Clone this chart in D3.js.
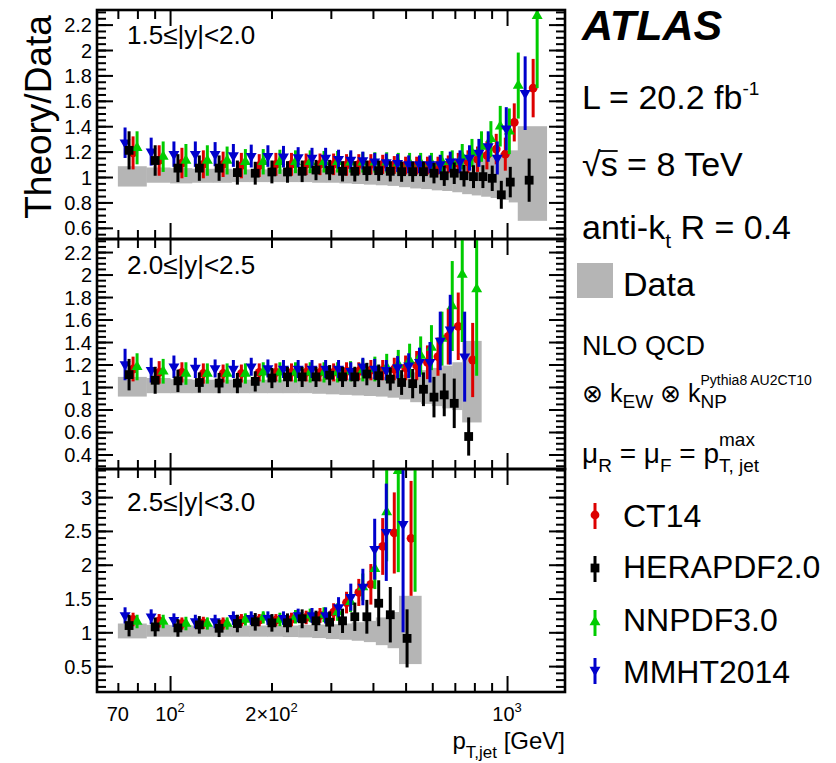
<!DOCTYPE html>
<html><head><meta charset="utf-8">
<script src="https://cdn.jsdelivr.net/npm/d3@7"></script>
<style>
body{margin:0;background:#fff}
svg{display:block}
text{font-family:"Liberation Sans",Arial,Helvetica,sans-serif;fill:#000;white-space:pre}
</style>
</head><body>
<svg id="c" width="836" height="763" xml:space="preserve"></svg>
<script>
// ---------------- DATA ----------------
const edges1 = [70,85,100,116,134,152,172,194,216,240,264,290,318,346,376,408,442,478,516,556,598,642,688,736,786,838,894,952,1012,1076,1310];
const edges2 = [70,85,100,116,134,152,172,194,216,240,264,290,318,346,376,408,442,478,516,556,598,642,688,736,838];
const edges3 = [70,85,100,116,134,152,172,194,216,240,264,290,318,346,376,408,442,478,556];

const dataUp1 = [1.085,1.075,1.07,1.065,1.065,1.06,1.06,1.06,1.06,1.06,1.06,1.06,1.065,1.07,1.07,1.075,1.08,1.085,1.09,1.095,1.10,1.11,1.12,1.13,1.14,1.15,1.17,1.19,1.21,1.40];
const dataDn1 = [0.925,0.955,0.95,0.955,0.955,0.96,0.96,0.96,0.96,0.96,0.955,0.955,0.95,0.945,0.94,0.935,0.93,0.92,0.91,0.905,0.895,0.89,0.88,0.865,0.855,0.845,0.835,0.82,0.80,0.655];
const hera1 = [1.21,1.13,1.07,1.07,1.07,1.035,1.03,1.04,1.04,1.045,1.055,1.055,1.045,1.045,1.05,1.05,1.045,1.042,1.042,1.042,1.03,1.01,1.03,1.01,1.003,1.003,0.99,0.86,0.96,0.975];
const heraErr1 = [0.15,0.12,0.11,0.1,0.1,0.095,0.09,0.09,0.085,0.085,0.08,0.08,0.08,0.08,0.08,0.08,0.08,0.08,0.08,0.08,0.08,0.08,0.085,0.085,0.09,0.09,0.1,0.11,0.12,0.17];
const ct14_1 = [1.19,1.13,1.11,1.10,1.10,1.09,1.09,1.10,1.10,1.10,1.10,1.10,1.095,1.10,1.10,1.10,1.095,1.09,1.09,1.09,1.09,1.10,1.11,1.12,1.14,1.17,1.22,1.18,1.43,1.70];
const ct14Err1 = [0.13,0.12,0.12,0.11,0.1,0.1,0.09,0.09,0.09,0.085,0.085,0.085,0.085,0.08,0.08,0.075,0.07,0.07,0.07,0.07,0.07,0.07,0.08,0.09,0.1,0.11,0.12,0.13,0.15,0.23];
const mmht1 = [1.27,1.20,1.18,1.18,1.18,1.17,1.165,1.165,1.16,1.155,1.15,1.15,1.14,1.135,1.13,1.12,1.115,1.11,1.10,1.10,1.10,1.10,1.12,1.12,1.15,1.19,1.24,1.15,1.38,1.66];
const mmhtErr1 = [0.12,0.11,0.1,0.1,0.095,0.09,0.09,0.085,0.085,0.08,0.08,0.08,0.075,0.075,0.07,0.07,0.07,0.07,0.07,0.07,0.07,0.075,0.08,0.09,0.1,0.11,0.12,0.13,0.17,0.29];
const nnpdf1 = [1.23,1.16,1.13,1.13,1.13,1.12,1.12,1.12,1.12,1.12,1.12,1.12,1.115,1.115,1.115,1.115,1.11,1.11,1.11,1.11,1.12,1.12,1.16,1.19,1.24,1.30,1.40,1.36,1.72,2.27];
const nnpdfErr1 = [0.13,0.12,0.13,0.12,0.11,0.1,0.1,0.095,0.09,0.09,0.085,0.085,0.08,0.08,0.08,0.08,0.08,0.08,0.08,0.08,0.085,0.09,0.1,0.11,0.12,0.14,0.16,0.18,0.26,0.57];

const dataUp2 = [1.09,1.08,1.07,1.065,1.065,1.065,1.065,1.065,1.065,1.065,1.07,1.07,1.075,1.08,1.085,1.09,1.10,1.11,1.13,1.15,1.17,1.19,1.22,1.41];
const dataDn2 = [0.915,0.945,0.945,0.945,0.945,0.945,0.945,0.945,0.945,0.945,0.94,0.935,0.93,0.925,0.92,0.915,0.905,0.89,0.865,0.85,0.83,0.81,0.795,0.685];
const hera2 = [1.11,1.06,1.055,1.04,1.035,1.035,1.05,1.08,1.09,1.09,1.09,1.105,1.09,1.09,1.115,1.10,1.07,1.04,1.03,0.98,0.91,0.93,0.855,0.56];
const heraErr2 = [0.14,0.12,0.1,0.09,0.09,0.09,0.09,0.09,0.09,0.09,0.09,0.09,0.09,0.09,0.1,0.1,0.1,0.11,0.13,0.15,0.18,0.19,0.22,0.17];
const ct14_2 = [1.16,1.13,1.13,1.12,1.12,1.12,1.13,1.13,1.13,1.13,1.13,1.13,1.14,1.14,1.15,1.15,1.16,1.17,1.19,1.22,1.27,1.45,1.54,1.24];
const ct14Err2 = [0.11,0.1,0.09,0.09,0.08,0.08,0.08,0.08,0.08,0.08,0.08,0.08,0.08,0.08,0.09,0.09,0.1,0.11,0.13,0.15,0.17,0.25,0.3,0.33];
const mmht2 = [1.20,1.15,1.18,1.17,1.165,1.16,1.18,1.165,1.16,1.16,1.16,1.16,1.16,1.14,1.18,1.16,1.15,1.175,1.19,1.22,1.22,1.41,1.51,1.27];
const mmhtErr2 = [0.14,0.11,0.1,0.09,0.08,0.08,0.08,0.08,0.08,0.08,0.08,0.08,0.08,0.08,0.08,0.09,0.09,0.1,0.11,0.13,0.18,0.26,0.31,0.4];
const nnpdf2 = [1.18,1.14,1.12,1.12,1.12,1.12,1.13,1.13,1.13,1.13,1.13,1.13,1.14,1.15,1.16,1.175,1.20,1.235,1.28,1.35,1.43,1.72,2.0,1.87];
const nnpdfErr2 = [0.12,0.11,0.1,0.09,0.09,0.09,0.09,0.09,0.09,0.09,0.09,0.09,0.09,0.1,0.11,0.12,0.13,0.15,0.17,0.2,0.24,0.4,0.6,0.77];

const dataUp3 = [1.13,1.11,1.105,1.10,1.10,1.10,1.10,1.10,1.10,1.11,1.115,1.12,1.13,1.15,1.17,1.22,1.30,1.54];
const dataDn3 = [0.91,0.935,0.935,0.935,0.935,0.935,0.935,0.935,0.93,0.925,0.915,0.90,0.89,0.875,0.855,0.81,0.765,0.53];
const hera3 = [1.10,1.08,1.065,1.11,1.06,1.13,1.155,1.14,1.14,1.20,1.17,1.15,1.17,1.23,1.23,1.43,1.26,0.91];
const heraErr3 = [0.16,0.14,0.13,0.13,0.13,0.13,0.13,0.13,0.14,0.14,0.15,0.16,0.18,0.21,0.25,0.34,0.41,0.43];
const ct14_3 = [1.19,1.17,1.13,1.14,1.13,1.18,1.18,1.18,1.19,1.22,1.25,1.30,1.44,1.59,1.71,2.27,2.47,2.39];
const ct14Err3 = [0.1,0.1,0.09,0.09,0.09,0.09,0.09,0.09,0.1,0.1,0.11,0.13,0.16,0.2,0.3,0.42,0.6,0.85];
const mmht3 = [1.25,1.23,1.18,1.16,1.16,1.21,1.21,1.21,1.21,1.25,1.25,1.25,1.37,1.52,1.67,2.23,2.48,2.60];
const mmhtErr3 = [0.12,0.11,0.1,0.1,0.1,0.1,0.1,0.1,0.1,0.1,0.11,0.12,0.15,0.2,0.27,0.45,0.72,1.6];
const nnpdf3 = [1.16,1.16,1.13,1.13,1.13,1.19,1.22,1.19,1.23,1.25,1.26,1.30,1.45,1.67,1.94,2.78,3.39,3.60];
const nnpdfErr3 = [0.1,0.1,0.1,0.09,0.09,0.09,0.09,0.1,0.1,0.1,0.11,0.13,0.15,0.2,0.3,0.73,1.5,2.0];

const yTicks1 = [0.6,0.8,1,1.2,1.4,1.6,1.8,2,2.2];
const yTicks2 = [0.4,0.6,0.8,1,1.2,1.4,1.6,1.8,2,2.2];
const yTicks3 = [0.5,1,1.5,2,2.5,3];
const xMajor = [100,1000];
const xMinor = [70,80,90,200,300,400,500,600,700,800,900];
const xTickVals = [70,100,200,1000];
const xTickBase = ["70","10","2×10","10"];
const xTickExp  = ["","2","2","3"];
const panelLabels = ["1.5≤|y|<2.0","2.0≤|y|<2.5","2.5≤|y|<3.0"];
const legendNames = ["CT14","HERAPDF2.0","NNPDF3.0","MMHT2014"];

// ---------------- LAYOUT ----------------
const svg = d3.select("#c");
const L = 97, R = 565;
const x = d3.scaleLog().domain([60.7,1486]).range([L,R]);
const panels = [
  {top:10,  bottom:239, dom:[0.512,2.315], minor:0.05, ticks:yTicks1, edges:edges1, up:dataUp1, dn:dataDn1,
   vals:[ct14_1,hera1,nnpdf1,mmht1], errs:[ct14Err1,heraErr1,nnpdfErr1,mmhtErr1], labY:44},
  {top:239, bottom:469, dom:[0.271,2.316], minor:0.05, ticks:yTicks2, edges:edges2, up:dataUp2, dn:dataDn2,
   vals:[ct14_2,hera2,nnpdf2,mmht2], errs:[ct14Err2,heraErr2,nnpdfErr2,mmhtErr2], labY:274},
  {top:469, bottom:692, dom:[0.117,3.416], minor:0.1, ticks:yTicks3, edges:edges3, up:dataUp3, dn:dataDn3,
   vals:[ct14_3,hera3,nnpdf3,mmht3], errs:[ct14Err3,heraErr3,nnpdfErr3,mmhtErr3], labY:511}
];
const styles = [
  {color:"#dd0000", shape:"circle", off:1},
  {color:"#000000", shape:"square", off:-3},
  {color:"#00cc00", shape:"up",     off:5},
  {color:"#0000cc", shape:"down",   off:-7}
];
const drawOrder = [0,2,3,1];
const BAND = "#b5b5b5";

function marker(g, shape, cx, cy, color){
  if(shape==="circle") g.append("circle").attr("cx",cx).attr("cy",cy).attr("r",4.4).attr("fill",color);
  else if(shape==="square") g.append("rect").attr("x",cx-4.4).attr("y",cy-4.4).attr("width",8.8).attr("height",8.8).attr("fill",color);
  else {
    const p = d3.symbol().type(d3.symbolTriangle).size(52)();
    g.append("path").attr("d",p).attr("fill",color)
     .attr("transform",`translate(${cx},${cy})${shape==="down"?" rotate(180)":""}`);
  }
}

panels.forEach((P,pi)=>{
  const y = d3.scaleLinear().domain(P.dom).range([P.bottom,P.top]);
  const cid = "clip"+pi;
  svg.append("clipPath").attr("id",cid).append("rect")
     .attr("x",L).attr("y",P.top).attr("width",R-L).attr("height",P.bottom-P.top);
  const g = svg.append("g").attr("clip-path",`url(#${cid})`);
  const bins = d3.range(P.edges.length-1).map(i=>({lo:P.edges[i],hi:P.edges[i+1],c:Math.sqrt(P.edges[i]*P.edges[i+1]),up:P.up[i],dn:P.dn[i]}));
  g.selectAll("rect.band").data(bins).join("rect").attr("class","band")
   .attr("x",d=>x(d.lo)).attr("width",d=>x(d.hi)-x(d.lo)+0.5)
   .attr("y",d=>y(d.up)).attr("height",d=>y(d.dn)-y(d.up)).attr("fill",BAND);
  drawOrder.forEach(si=>{
    const S = styles[si], vals = P.vals[si], errs = P.errs[si];
    bins.forEach((b,i)=>{
      const cx = x(b.c)+S.off;
      g.append("line").attr("x1",cx).attr("x2",cx)
        .attr("y1",y(vals[i]-errs[i])).attr("y2",y(vals[i]+errs[i]))
        .attr("stroke",S.color).attr("stroke-width",3);
      marker(g,S.shape,cx,y(vals[i]),S.color);
    });
  });
  const ax = svg.append("g").attr("class","axes");
  const minorVals = d3.range(Math.ceil(P.dom[0]/P.minor)*P.minor, P.dom[1], P.minor).map(v=>+v.toFixed(3));
  ax.append("g").attr("transform",`translate(${L},0)`)
    .call(d3.axisLeft(y).tickValues(minorVals).tickSize(-9).tickFormat(""));
  ax.append("g").attr("transform",`translate(${L},0)`)
    .call(d3.axisLeft(y).tickValues(P.ticks).tickSize(-16).tickPadding(5).tickFormat(d3.format("~g")))
    .selectAll("text").attr("font-size",20).attr("dy","0.35em");
  ax.append("g").attr("transform",`translate(${R},0)`)
    .call(d3.axisRight(y).tickValues(minorVals).tickSize(-9).tickFormat(""));
  ax.append("g").attr("transform",`translate(${R},0)`)
    .call(d3.axisRight(y).tickValues(P.ticks).tickSize(-16).tickFormat(""));
  ax.append("g").attr("transform",`translate(0,${P.bottom})`)
    .call(d3.axisBottom(x).tickValues(xMinor).tickSize(-9).tickFormat(""));
  ax.append("g").attr("transform",`translate(0,${P.bottom})`)
    .call(d3.axisBottom(x).tickValues(xMajor).tickSize(-16).tickFormat(""));
  ax.append("g").attr("transform",`translate(0,${P.top})`)
    .call(d3.axisTop(x).tickValues(xMinor).tickSize(-9).tickFormat(""));
  ax.append("g").attr("transform",`translate(0,${P.top})`)
    .call(d3.axisTop(x).tickValues(xMajor).tickSize(-16).tickFormat(""));
  ax.selectAll(".domain").remove();
  ax.selectAll("line").attr("stroke","#000").attr("stroke-width",2);
  ax.selectAll("text").attr("font-family",null).style("font-family",'"Liberation Sans",Arial,sans-serif').attr("fill","#000");
  svg.append("rect").attr("x",L).attr("y",P.top).attr("width",R-L).attr("height",P.bottom-P.top)
     .attr("fill","none").attr("stroke","#000").attr("stroke-width",2.6);
  svg.append("text").attr("x",127).attr("y",P.labY).attr("font-size",26).text(panelLabels[pi]);
});

// x tick labels
const xl = svg.append("g");
xTickVals.forEach((v,i)=>{
  const t = xl.append("text").attr("x",x(v)).attr("y",721).attr("font-size",20).attr("text-anchor","middle");
  t.append("tspan").text(xTickBase[i]);
  if(xTickExp[i]) t.append("tspan").attr("font-size",13).attr("dy",-9).text(xTickExp[i]);
});
// x title
const xt = svg.append("text").attr("x",R).attr("y",749).attr("font-size",24).attr("text-anchor","end");
xt.append("tspan").text("p");
xt.append("tspan").attr("font-size",17).attr("dy",9).text("T,jet");
xt.append("tspan").attr("dy",-9).text(" [GeV]");
// y title
svg.append("text").attr("transform","translate(51,117) rotate(-90)").attr("text-anchor","middle")
   .attr("font-size",37).text("Theory/Data");

// ------------- legend / annotations -------------
function rich(x0,y0,parts){
  let cx = x0, pend = 0;
  const out = [];
  parts.forEach(p=>{
    const t = svg.append("text").attr("x",cx).attr("y",y0+(p.dy||0)).attr("font-size",p.size).text(p.t);
    const w = t.node().getComputedTextLength();
    out.push({x:cx,w:w});
    if(p.keep){ pend = w; }
    else { cx += Math.max(w,pend); pend = 0; }
  });
  return out;
}
svg.append("text").attr("x",582).attr("y",40).attr("font-size",43).attr("font-weight","bold")
   .attr("font-style","italic").text("ATLAS");
rich(582,109,[{t:"L = 20.2 fb",size:34},{t:"-1",size:19,dy:-14}]);
const sq = rich(582,176,[{t:"√",size:34},{t:"s = 8 TeV",size:34}]);
svg.append("line").attr("x1",sq[1].x-1).attr("x2",sq[1].x+17).attr("y1",151).attr("y2",151)
   .attr("stroke","#000").attr("stroke-width",1.8);
rich(582,239,[{t:"anti-k",size:34},{t:"t",size:21,dy:9},{t:" R = 0.4",size:34}]);
svg.append("rect").attr("x",577).attr("y",263).attr("width",36).attr("height",35).attr("fill",BAND);
svg.append("text").attr("x",623).attr("y",296).attr("font-size",34).text("Data");
svg.append("text").attr("x",582).attr("y",355).attr("font-size",27).text("NLO QCD");
rich(582,402,[{t:"⊗ k",size:25},{t:"EW",size:19,dy:6},{t:" ⊗ k",size:25},{t:"Pythia8 AU2CT10",size:14,dy:-17,keep:true},{t:"NP",size:19,dy:6}]);
rich(582,463,[{t:"μ",size:28},{t:"R",size:19,dy:9},{t:" = μ",size:28},{t:"F",size:19,dy:9},{t:" = p",size:28},
              {t:"max",size:19,dy:-17,keep:true},{t:"T, jet",size:19,dy:9}]);
const legY = [{m:515,t:527},{m:568,t:578},{m:622,t:631},{m:670,t:683}];
const lg = svg.append("g");
legendNames.forEach((n,i)=>{
  const S = styles[i];
  lg.append("line").attr("x1",595).attr("x2",595).attr("y1",legY[i].m-12).attr("y2",legY[i].m+14)
    .attr("stroke",S.color).attr("stroke-width",3);
  marker(lg,S.shape,595,legY[i].m,S.color);
  svg.append("text").attr("x",623).attr("y",legY[i].t).attr("font-size",32).text(n);
});
</script>
</body></html>
